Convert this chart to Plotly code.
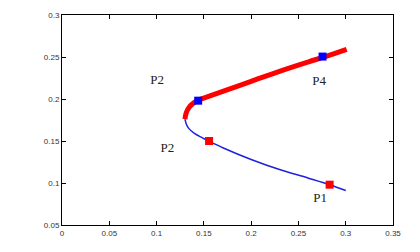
import plotly.graph_objects as go

# stable (red) branch
red_x = [0.130, 0.1315, 0.135, 0.140, 0.145, 0.155, 0.170, 0.200, 0.230, 0.260, 0.280, 0.301]
red_y = [0.176, 0.184, 0.191, 0.196, 0.199, 0.203, 0.209, 0.221, 0.233, 0.244, 0.251, 0.259]
# unstable (blue) branch
blue_x = [0.130, 0.1315, 0.134, 0.140, 0.148, 0.155, 0.170, 0.200, 0.230, 0.260, 0.283, 0.300]
blue_y = [0.176, 0.170, 0.165, 0.159, 0.154, 0.150, 0.142, 0.128, 0.116, 0.106, 0.098, 0.091]

blue_pts_x = [0.144, 0.2755]
blue_pts_y = [0.198, 0.2505]
red_pts_x = [0.1555, 0.283]
red_pts_y = [0.150, 0.098]

labels = ["P2", "P2", "P4", "P1"]
label_x = [0.1005, 0.1115, 0.272, 0.273]
label_y = [0.2222, 0.1405, 0.2205, 0.0815]

fig = go.Figure()
fig.add_trace(go.Scatter(x=blue_x, y=blue_y, mode="lines",
                         line=dict(color="#2020e0", width=1.5, shape="spline")))
fig.add_trace(go.Scatter(x=red_x, y=red_y, mode="lines",
                         line=dict(color="#ff0000", width=5, shape="spline")))
fig.add_trace(go.Scatter(x=blue_pts_x, y=blue_pts_y, mode="markers",
                         marker=dict(symbol="square", size=8, color="#0000ff")))
fig.add_trace(go.Scatter(x=red_pts_x, y=red_pts_y, mode="markers",
                         marker=dict(symbol="square", size=8, color="#ff0000")))
fig.add_trace(go.Scatter(x=label_x, y=label_y, mode="text", text=labels,
                         textfont=dict(family="Liberation Serif", size=13, color="#222")))

axis_common = dict(showline=True, linecolor="black", linewidth=1, mirror="ticks",
                   ticks="inside", ticklen=4, tickcolor="black", showgrid=False,
                   zeroline=False, tickfont=dict(family="Liberation Sans", size=8, color="#333"))
fig.update_xaxes(range=[0, 0.35], tickvals=[0, 0.05, 0.1, 0.15, 0.2, 0.25, 0.3, 0.35],
                 ticktext=["0", "0.05", "0.1", "0.15", "0.2", "0.25", "0.3", "0.35"],
                 **axis_common)
fig.update_yaxes(range=[0.05, 0.3], tickvals=[0.05, 0.1, 0.15, 0.2, 0.25, 0.3],
                 ticktext=["0.05", "0.1", "0.15", "0.2", "0.25", "0.3"],
                 **axis_common)
fig.update_layout(width=420, height=252, margin=dict(l=62, r=27, t=15, b=27),
                  plot_bgcolor="white", paper_bgcolor="white", showlegend=False)
fig.write_html("out.html")
